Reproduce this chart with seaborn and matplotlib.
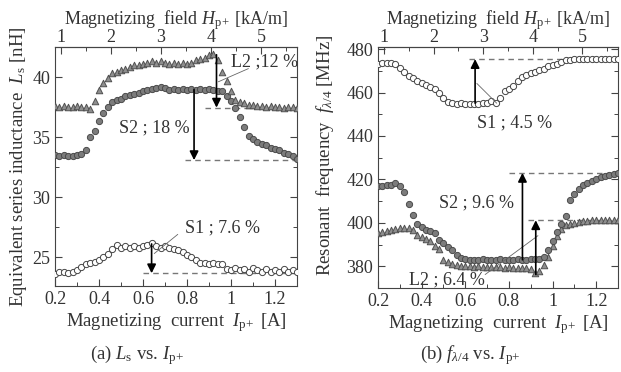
import numpy as np
import pandas as pd
import seaborn as sns
import matplotlib
matplotlib.use("Agg")
import matplotlib.pyplot as plt
from matplotlib.ticker import MultipleLocator, FuncFormatter

# magnetizing current [A], sampled every 0.02 A
current = np.round(np.linspace(0.2, 1.3, 56), 2)

# (a) equivalent series inductance Ls [nH]
ls_L2 = [37.6, 37.5, 37.6, 37.5, 37.5, 37.6, 37.5, 37.5, 37.3, 38.0,
         38.9, 39.5, 39.9, 40.3, 40.4, 40.6, 40.7, 40.8, 41.0, 41.0,
         41.1, 41.2, 41.3, 41.2, 41.3, 41.2, 41.1, 41.2, 41.1, 41.2,
         41.1, 41.2, 41.4, 41.5, 41.6, 41.8, 41.9, 41.4, 40.4, 39.7,
         38.8, 38.1, 37.9, 37.8, 37.7, 37.7, 37.6, 37.6, 37.5, 37.6,
         37.5, 37.5, 37.4, 37.5, 37.5, 37.4]
ls_S2 = [33.5, 33.4, 33.5, 33.4, 33.4, 33.5, 33.6, 33.9, 35.0, 35.5,
         36.3, 37.0, 37.5, 37.9, 38.1, 38.2, 38.4, 38.5, 38.6, 38.7,
         38.8, 38.9, 39.0, 39.1, 39.2, 39.1, 38.9, 39.0, 38.9, 39.0,
         38.9, 39.0, 38.9, 39.0, 38.9, 39.0, 38.9, 38.8, 38.8, 38.4,
         38.0, 37.4, 36.7, 35.8, 35.1, 34.8, 34.6, 34.4, 34.3, 34.1,
         34.0, 33.9, 33.7, 33.6, 33.4, 33.2]
ls_S1 = [23.6, 23.8, 23.8, 23.7, 23.8, 23.9, 24.2, 24.4, 24.5, 24.6,
         24.8, 25.0, 25.3, 25.7, 26.0, 25.8, 25.9, 25.8, 25.9, 25.8,
         25.9, 26.0, 26.2, 25.9, 25.8, 25.9, 25.8, 25.7, 25.6, 25.4,
         25.2, 25.0, 24.8, 24.5, 24.5, 24.4, 24.5, 24.4, 24.4, 24.0,
         23.9, 24.1, 23.9, 24.0, 23.8, 24.1, 23.9, 23.8, 24.0, 23.8,
         23.9, 23.8, 24.0, 23.8, 23.9, 23.8]

# (b) resonant frequency f_lambda/4 [MHz]
f_S1 = [473.3, 473.5, 473.4, 473.6, 473.3, 471.5, 469.5, 467.8, 466.5, 465.2,
        464.3, 463.5, 462.7, 461.5, 459.7, 457.4, 455.5, 455.1, 454.9, 455.0,
        454.8, 454.7, 454.6, 454.8, 455.0, 455.4, 455.9, 455.2, 457.5, 460.5,
        461.8, 463.2, 465.5, 467.0, 468.0, 468.8, 469.6, 470.3, 471.0, 472.0,
        472.8, 473.3, 474.2, 474.9, 475.2, 475.5, 475.5, 475.6, 475.5, 475.6,
        475.6, 475.5, 475.6, 475.6, 475.5, 475.6]
f_S2 = [416.8, 416.8, 417.2, 417.6, 418.2, 417.0, 414.0, 408.5, 403.5, 399.4,
        398.0, 396.9, 396.2, 395.3, 392.2, 390.5, 389.0, 387.3, 385.0, 383.8,
        383.2, 383.0, 383.1, 383.0, 383.2, 383.0, 383.1, 383.0, 383.2, 383.0,
        383.1, 383.0, 383.2, 383.0, 383.1, 383.2, 383.3, 383.5, 384.5, 387.5,
        391.8, 396.0, 399.5, 403.2, 410.5, 413.5, 415.5, 417.3, 418.5, 419.5,
        420.3, 421.0, 421.6, 422.1, 422.6, 423.0]
f_L2 = [395.5, 396.0, 396.4, 396.7, 397.1, 397.5, 397.8, 397.6, 396.8, 394.2,
        393.5, 392.6, 391.6, 389.3, 388.0, 383.0, 382.0, 381.0, 380.5, 380.3,
        380.2, 380.0, 379.9, 380.0, 379.8, 379.9, 379.7, 379.5, 379.6, 379.4,
        379.5, 379.3, 379.4, 379.2, 379.1, 378.8, 376.7, 377.8, 380.5, 384.5,
        389.5, 394.1, 397.1, 398.8, 399.6, 400.0, 400.4, 400.7, 400.9, 401.1,
        401.2, 401.3, 401.4, 401.3, 401.3, 401.2]

# change arrows: (current, from, to, dashed line start)
arrows_a = [(0.832, 38.95, 33.08, 0.79), (0.934, 41.85, 37.45, 0.88), (0.639, 26.1, 23.66, 0.60)]
arrows_b = [(0.645, 455.1, 475.4, 0.615), (0.862, 383.0, 423.0, 0.80), (0.923, 376.2, 401.2, 0.888)]

sns.set_theme(style="ticks")
plt.rcParams["font.family"] = ["Liberation Serif", "DejaVu Serif"]
plt.rcParams["mathtext.fontset"] = "custom"
plt.rcParams["mathtext.rm"] = "Liberation Serif"
plt.rcParams["mathtext.it"] = "Liberation Serif:italic"
plt.rcParams["axes.edgecolor"] = "#444444"
plt.rcParams["axes.linewidth"] = 0.8

fig = plt.figure(figsize=(6.21, 3.72), dpi=100)
ax1 = fig.add_axes([0.0886, 0.2312, 0.3897, 0.6425])
ax2 = fig.add_axes([0.6087, 0.2258, 0.3865, 0.648])

styles = {
    "L2": dict(marker="^", color="#8e8e8e", edgecolor="#505050", s=22, linewidth=0.7),
    "S2": dict(marker="o", color="#7c7c7c", edgecolor="#4a4a4a", s=20, linewidth=0.7),
    "S1": dict(marker="o", color="white", edgecolor="#444444", s=20, linewidth=0.7),
}

IP = r"$I_{\mathrm{p}\!+}$"


def draw(ax, series, ylim, ymaj, ymin, arrows):
    for name, vals in series:
        df = pd.DataFrame({"I": current, "v": vals})
        sns.scatterplot(data=df, x="I", y="v", ax=ax, legend=False, zorder=3, **styles[name])
    for x, y0, y1, xd in arrows:
        ax.plot([xd, 1.3], [y1, y1], ls=(0, (4, 3)), color="#777777", lw=1.0, zorder=2)
        ax.annotate("", xy=(x, y1), xytext=(x, y0),
                    arrowprops=dict(arrowstyle="-|>", color="black", lw=1.2,
                                    mutation_scale=13, shrinkA=0, shrinkB=0), zorder=5)
    ax.set_xlim(0.2, 1.3)
    ax.set_ylim(*ylim)
    ax.xaxis.set_major_locator(MultipleLocator(0.2))
    ax.xaxis.set_minor_locator(MultipleLocator(0.1))
    ax.yaxis.set_major_locator(MultipleLocator(ymaj))
    ax.yaxis.set_minor_locator(MultipleLocator(ymin))
    ax.xaxis.set_major_formatter(FuncFormatter(lambda v, p: f"{v:g}"))
    ax.tick_params(which="both", direction="in", top=False, right=True,
                   labelsize=13, colors="#444444", labelcolor="#333333")
    ax.tick_params(which="major", length=5, width=0.8)
    ax.tick_params(which="minor", length=3, width=0.7)
    ax.set_xlabel("Magnetizing  current  " + IP + " [A]", fontsize=13.5,
                  color="#333333", labelpad=2)
    sec = ax.secondary_xaxis("top", functions=(lambda i: 4.4 * i, lambda h: h / 4.4))
    sec.xaxis.set_major_locator(MultipleLocator(1))
    sec.xaxis.set_minor_locator(MultipleLocator(0.5))
    sec.tick_params(which="both", direction="in", labelsize=13, colors="#444444",
                    labelcolor="#333333", pad=1)
    sec.tick_params(which="major", length=5, width=0.8)
    sec.tick_params(which="minor", length=3, width=0.7)
    sec.spines["top"].set_color("#444444")
    sec.set_xlabel(r"Magnetizing  field $H_{\mathrm{p}\!+}$ [kA/m]", fontsize=13,
                   color="#333333", labelpad=3)
    return ax


draw(ax1, [("S1", ls_S1), ("S2", ls_S2), ("L2", ls_L2)], (22.6, 42.5), 5, 2.5, arrows_a)
draw(ax2, [("S1", f_S1), ("L2", f_L2), ("S2", f_S2)], (370, 481), 20, 10, arrows_b)

ax1.set_ylabel(r"Equivalent series inductance  $L_{\mathrm{s}}$ [nH]", fontsize=13.5,
               color="#333333", labelpad=2)
ax2.set_ylabel(r"Resonant  frequency  $f_{\lambda/4}$ [MHz]", fontsize=13.5,
               color="#333333", labelpad=2)
ax2.yaxis.set_label_coords(-0.175, 0.55)

txt = dict(fontsize=13, color="#333333", zorder=6)
lead = dict(color="#666666", lw=0.6, zorder=4)
ax1.text(1.0, 41.25, "L2 ;12 %", ha="left", va="center", **txt)
ax1.plot([0.942, 1.079], [39.6, 40.7], **lead)
ax1.text(0.49, 35.8, "S2 ; 18 %", ha="left", va="center", **txt)
ax1.text(0.79, 27.45, "S1 ; 7.6 %", ha="left", va="center", **txt)
ax1.plot([0.651, 0.758], [25.3, 26.9], **lead)

ax2.text(0.655, 446.0, "S1 ; 4.5 %", ha="left", va="center", **txt)
ax2.plot([0.653, 0.744], [464.2, 455.1], **lead)
ax2.text(0.479, 409.2, "S2 ; 9.6 %", ha="left", va="center", **txt)
ax2.text(0.342, 373.8, "L2 ; 6.4 %", ha="left", va="center", **txt)
ax2.plot([0.691, 0.933], [376.2, 394.1], **lead)

fig.text(137 / 621, 1 - 355 / 372, r"(a) $L_{\mathrm{s}}$ vs. " + IP,
         ha="center", va="center", fontsize=13.5, color="#333333")
fig.text(470 / 621, 1 - 355 / 372, r"(b) $f_{\lambda/4}$ vs. " + IP,
         ha="center", va="center", fontsize=13.5, color="#333333")

fig.savefig("out.png", dpi=100)
